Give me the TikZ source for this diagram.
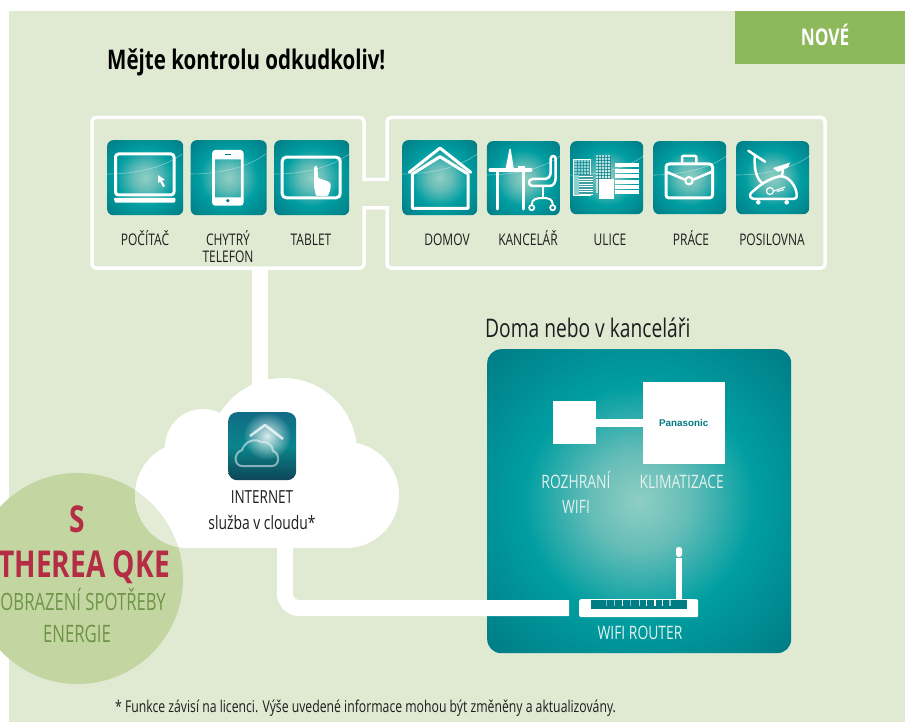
\documentclass[tikz,border=0pt]{standalone}
\usepackage{fontspec}
\setmainfont{Open Sans}
\newfontfamily\cond[FakeStretch=0.75]{Open Sans}
\newfontfamily\condn[FakeStretch=0.70]{Open Sans}
\newfontfamily\condb[FakeStretch=0.76]{Open Sans}
\newfontfamily\logofont{Liberation Sans}
\usetikzlibrary{calc,fadings}
\tikzfading[name=softglow,inner color=transparent!15,outer color=transparent!100]
\definecolor{bgc}{HTML}{E0E9D2}
\definecolor{newc}{HTML}{8DB85C}
\definecolor{badgec}{HTML}{C3D6A2}
\definecolor{overc}{HTML}{E4ECD8}
\definecolor{tealc}{HTML}{007C84}
\definecolor{redc}{HTML}{B52C45}
\definecolor{oliv}{HTML}{6E9447}
\definecolor{pale}{HTML}{E2F2EE}
\definecolor{ink}{HTML}{1E1E1E}
\definecolor{ta}{HTML}{8FCFC3}
\definecolor{tb}{HTML}{66BDB8}
\definecolor{tc}{HTML}{009EA1}
\definecolor{td}{HTML}{007A84}
\definecolor{ca}{HTML}{0D4556}
\definecolor{cb}{HTML}{0A858C}
\definecolor{cc}{HTML}{126B85}
\pgfdeclareradialshading{tealrad}{\pgfpoint{0bp}{0bp}}{
 color(0bp)=(ta);
 color(8bp)=(tb);
 color(19bp)=(tc);
 color(36bp)=(td);
 color(100bp)=(td)}
\pgfdeclareverticalshading{cloudgrad}{100bp}{
 color(0bp)=(ca);
 color(25bp)=(ca);
 color(50bp)=(cb);
 color(75bp)=(cc);
 color(100bp)=(cc)}
\tikzset{
 x=1pt,y=-1pt,
 lab/.style={font=\cond\fontsize{16}{18}\selectfont,text=ink,anchor=base,inner sep=0pt},
 wlab/.style={font=\cond\fontsize{18.5}{20}\selectfont,text=pale,anchor=base,inner sep=0pt},
 iconbox/.style={anchor=north west,inner sep=0pt,rounded corners=6pt,shade,shading=tealrad},
 frameline/.style={draw=white,line width=3.5pt},
 thick link/.style={draw=white,line width=16pt},
 whitebox/.style={fill=white,inner sep=0pt,anchor=north west},
 glyph/.style={draw=white,line width=3pt,line join=round,line cap=round,fill=none},
 thin glyph/.style={draw=white,line width=2pt,line join=round,line cap=round,fill=none},
 arcline/.style={draw=white,draw opacity=.4,line width=.6pt},
}
\newcommand{\iconarc}{\draw[arcline] (0,34) .. controls (30,34) and (58,27) .. (75,14);}
\newcommand{\cloudfill}[1]{%
 \fill[#1] (283,452) circle[radius=74];
 \fill[#1] (203,447) circle[radius=38];
 \fill[#1] (188,495) circle[radius=53];
 \fill[#1] (346,495) circle[radius=53];
 \fill[#1] (188,500) rectangle (346,548);}
\begin{document}
\begin{tikzpicture}
\useasboundingbox (0,0) rectangle (905,722);
\begin{scope}
\clip (0,0) rectangle (905,722);
\fill[white] (0,0) rectangle (905,722);
\fill[bgc] (9,11) rectangle (905,722);
\node[fill=newc,anchor=north west,minimum width=170pt,minimum height=53pt,inner sep=0pt] (newbox) at (735,11) {};
\node[anchor=base,inner sep=0pt,text=white,font=\cond\bfseries\fontsize{23}{25}\selectfont] (newtxt) at (825,46) {NOVÉ};
\node[anchor=base west,inner sep=0pt,text=black,font=\condb\bfseries\fontsize{27}{30}\selectfont] (title) at (107,70) {Mějte kontrolu odkudkoliv!};

% outline round both groups
\draw[frameline,rounded corners=4pt] (92,140) -- (92,117.5) -- (364,117.5) [sharp corners] -- (364,179.5) -- (387,179.5) [rounded corners=4pt] -- (387,117.5) -- (825,117.5) -- (825,268) -- (387,268) [sharp corners] -- (387,208) -- (364,208) [rounded corners=4pt] -- (364,268) -- (92,268) -- (92,140);

% icons
\node[iconbox,minimum width=76pt,minimum height=75pt] (pc) at (107,140) {};
\begin{scope}[shift={(107,140)}]
 \iconarc
 \draw[glyph,rounded corners=3pt] (8.5,14) rectangle (67,55);
 \fill[white,rounded corners=1pt] (6.7,58) -- (68.7,58) -- (68,62.7) -- (8,62.7) -- cycle;
 \fill[white] (51,35) -- (51,43) -- (53,41.5) -- (56,47) -- (58,46) -- (55,40.5) -- (58,40) -- cycle;
\end{scope}
\node[iconbox,minimum width=76pt,minimum height=75pt] (phone) at (190.5,140) {};
\begin{scope}[shift={(190.5,140)}]
 \iconarc
 \fill[white,even odd rule] [rounded corners=3pt] (21.7,10) rectangle (53,65.7) [sharp corners] (24.3,19.3) rectangle (50.3,57.3);
 \fill[tealc] (37.3,60.7) circle[radius=1.8];
 \draw[tealc,line width=1pt] (34.7,14.7) -- (40.7,14.7);
\end{scope}
\node[iconbox,minimum width=75pt,minimum height=75pt] (tablet) at (274,140) {};
\begin{scope}[shift={(274,140)}]
 \iconarc
 \draw[glyph,rounded corners=4pt] (8.2,17.2) rectangle (66.2,57.8);
 \fill[white,rounded corners=1pt] (40,27) -- (41.5,25.5) -- (43.5,27) -- (44,38) -- (47,39) -- (50,40) -- (53,41) -- (56.5,43) -- (56.5,49) -- (54,56) -- (42,56) -- (40,47) -- cycle;
\end{scope}
\node[iconbox,minimum width=75pt,minimum height=75pt] (domov) at (402,140) {};
\begin{scope}[shift={(402,140)}]
 \iconarc
 \draw[glyph] (7.3,32.3) -- (38,8) -- (68.7,32.3);
 \draw[glyph] (10.3,34) -- (38,16.7) -- (66,34) -- (66,68.3) -- (10.3,68.3) -- cycle;
\end{scope}
\node[iconbox,minimum width=73pt,minimum height=74pt] (office) at (486.7,141) {};
\begin{scope}[shift={(486.7,141)}]
 \iconarc
 \draw[white,line width=3.5pt,line cap=round] (3.5,29) -- (44,29);
 \draw[glyph] (11,29) -- (11,68);
 \draw[glyph] (36.3,29) -- (36.3,68);
 \fill[white] (22.7,8) -- (24,8) -- (27,27) -- (19,27) -- cycle;
 \fill[white] (31,25) rectangle (38,27);
 \draw[glyph,line width=2.5pt] (69,18) .. controls (69,14) and (64,14) .. (64,18) -- (64,31) .. controls (64,36) and (61,38) .. (57,38) -- (46,38) .. controls (41,38) and (41,45) .. (46,45) -- (63,45) .. controls (67,45) and (69,41) .. (69,36) -- cycle;
 \draw[thin glyph] (56,45) -- (56,57);
 \draw[thin glyph] (45,63.5) .. controls (45,58) and (50,57) .. (56,57) .. controls (62,57) and (66,58) .. (66,63.5);
 \draw[white,line width=1.7pt] (45,66.7) circle[radius=2.6];
 \draw[white,line width=1.7pt] (66,66.7) circle[radius=2.6];
\end{scope}
\node[iconbox,minimum width=73pt,minimum height=73pt] (street) at (570,141) {};
\begin{scope}[shift={(570,141)}]
 \iconarc
 \fill[white,opacity=.55] (3.3,18) rectangle (20.7,54);
 \draw[white,line width=.8pt] (3.7,18.4) rectangle (20.3,54);
 \foreach \v in {21,24,27,30,33} {\draw[tealc,line width=.5pt,opacity=.6] (4,\v) -- (20,\v);}
 \foreach \v in {7,10,13,16,19} {\draw[tealc,line width=.5pt,opacity=.6] (\v,19) -- (\v,34);}
 \fill[tealc!75] (9,34) rectangle (23,54);
 \foreach \v in {36,38.5,41,43.5,46,48.5,51,53.5} {\draw[white,line width=1pt] (9,\v) -- (22.7,\v);}
 \fill[white,opacity=.6] (25.7,14) rectangle (41,52);
 \foreach \v in {16,19,22,25,28,31,34,37} {\draw[tealc,line width=.7pt,opacity=.7] (25.7,\v) -- (41,\v);}
 \foreach \v in {28,31,34,37,40} {\draw[tealc,line width=.7pt,opacity=.7] (\v,14) -- (\v,52);}
 \foreach \v in {22,28,33.5,39,44,49.5} {\fill[white] (45,\v) rectangle (69.3,\v+4);}
 \fill[white] (29.3,38) rectangle (44,58.5);
\end{scope}
\node[iconbox,minimum width=73pt,minimum height=73pt] (work) at (653,141) {};
\begin{scope}[shift={(653,141)}]
 \iconarc
 \draw[glyph,rounded corners=3pt] (13,23) rectangle (59.5,57);
 \draw[glyph,line width=2.5pt,rounded corners=1pt] (29,21) -- (29,15) -- (43.3,15) -- (43.3,21);
 \draw[glyph,line width=2.5pt] (13,30.7) -- (31,38.3);
 \draw[glyph,line width=2.5pt] (59,30.7) -- (41,38.3);
 \draw[white,line width=2pt] (36,39.7) circle[radius=3.7];
\end{scope}
\node[iconbox,minimum width=73pt,minimum height=73pt] (gym) at (736,141) {};
\begin{scope}[shift={(736,141)}]
 \iconarc
 \draw[glyph,line width=2.5pt] (12.3,9.7) -- (29,20.7);
 \draw[glyph,line width=2.5pt] (19,14) .. controls (18,24) and (19,36) .. (26,42);
 \fill[white] (37,27) -- (54,21.5) -- (52,26.5) -- (42,31) -- cycle;
 \draw[glyph,line width=2.5pt] (47,29) -- (45.7,35.7);
 \draw[glyph,line width=2.5pt] (15,52) .. controls (22,46) and (30,38) .. (45,35) .. controls (54,36) and (60,46) .. (60.7,53) .. controls (61,57) and (60,58) .. (57,58) -- (19,58) .. controls (14,58) and (13,54) .. (15,52) -- cycle;
 \draw[white,line width=1.2pt] (34,50) circle[radius=3.5];
 \draw[white,line width=1.1pt] (38,50) -- (49,46);
 \draw[white,line width=1.1pt] (41,50.5) -- (48,48.5);
 \fill[white] (22.3,61.3) circle[radius=2.3];
 \fill[white] (50.7,61.3) circle[radius=2.3];
\end{scope}

% icon labels
\node[lab] (lpc) at (145,245) {POČÍTAČ};
\node[lab] (lphone) at (228,245) {CHYTRÝ};
\node[lab] (lphone2) at (228,262.5) {TELEFON};
\node[lab] (ltablet) at (311,245) {TABLET};
\node[lab] (ldomov) at (447,245) {DOMOV};
\node[lab] (loffice) at (528,245) {KANCELÁŘ};
\node[lab] (lstreet) at (610,245) {ULICE};
\node[lab] (lwork) at (691,245) {PRÁCE};
\node[lab] (lgym) at (772,245) {POSILOVNA};

% panel
\node[anchor=base west,inner sep=0pt,text=ink,font=\cond\fontsize{25.6}{28}\selectfont] (doma) at (485,337) {Doma nebo v kanceláři};
\node[iconbox,rounded corners=14pt,minimum width=304pt,minimum height=304pt] (panel) at (487,349) {};
\node[whitebox,minimum width=43pt,minimum height=43pt] (wifibox) at (553,401) {};
\node[whitebox,minimum width=82pt,minimum height=82pt] (acbox) at (643,382) {};
\draw[white,line width=8pt] (wifibox.east |- 0,423) -- (acbox.west |- 0,423);
\node[inner sep=0pt,text=tealc,font=\logofont\bfseries\fontsize{9.8}{11}\selectfont] (pana) at (683.7,422.7) {Panasonic};
\node[wlab] (lwifi) at (576,488) {ROZHRANÍ};
\node[wlab] (lwifi2) at (576,513) {WIFI};
\node[wlab] (lac) at (681.7,488) {KLIMATIZACE};
\node[wlab] (lrouter) at (640,639) {WIFI ROUTER};

% links and cloud
\coordinate (tap) at (260,268);
\coordinate (cloudtop) at (260,390);
\coordinate (cloudfoot) at (285,545);
\coordinate (linkend) at (569,608);
\draw[thick link] (tap) -- (cloudtop);
\draw[thick link,rounded corners=14pt] (cloudfoot) -- (cloudfoot |- linkend) -- (linkend);
\node[circle,fill=badgec,inner sep=0pt,minimum size=211pt] (badge) at (77.5,578.5) {};
\cloudfill{white}
\begin{scope}
 \clip (77.5,578.5) circle[radius=105.5];
 \cloudfill{overc}
\end{scope}

% cloud icon
\node[anchor=north west,inner sep=0pt,rounded corners=9pt,minimum width=68pt,minimum height=68pt,shade,shading=cloudgrad] (cloudicon) at (228,412) {};
\begin{scope}[shift={(228,412)}]
 \fill[white,path fading=softglow] (39,24) circle[radius=24];
 \draw[white,opacity=.5,line width=2pt,line join=round] (14,54) .. controls (6,54) and (5,41) .. (14,38) .. controls (17,29) and (27,26) .. (33,30) .. controls (40,29) and (45,34) .. (45,39) .. controls (52,41) and (52,54) .. (44,54) -- cycle;
 \draw[white,opacity=.75,line width=2.5pt,line join=round] (22,24) -- (37,13) -- (55,27);
\end{scope}
\node[lab,font=\cond\fontsize{18}{20}\selectfont] (linternet) at (262,503) {INTERNET};
\node[lab,font=\cond\fontsize{18.5}{20}\selectfont] (lcloud) at (262,529) {služba v cloudu*};

% router
\node[fill=white,inner sep=0pt,anchor=north west,rounded corners=2pt,minimum width=119pt,minimum height=18pt] (router) at (579,599) {};
\fill[tealc] (591,600) rectangle (687,609);
\foreach \v/\o in {606.7/.5,614.7/.6,622.7/1,630.7/.5,639.3/.7,646.7/1,655/1,662.7/1,670/.6} {\draw[white,opacity=\o,line width=1.5pt] (\v,600) -- (\v,606);}
\draw[white,line width=6pt] (679,558) -- (router.north -| 679,0);
\fill[white,rounded corners=2.5pt] (676,557) -- (676,547) -- (682,547) -- (682,557) -- cycle;

% badge text
\node[anchor=base,inner sep=0pt,text=redc,font=\condb\bfseries\fontsize{37}{40}\selectfont] (bs) at (77,532) {S};
\node[anchor=base east,inner sep=0pt,text=redc,font=\condb\bfseries\fontsize{37}{40}\selectfont] (bname) at (170,577) {THEREA QKE};
\node[anchor=base east,inner sep=0pt,text=oliv,font=\condn\fontsize{23.8}{27}\selectfont] (bsub) at (166,610) {OBRAZENÍ SPOTŘEBY};
\node[anchor=base,inner sep=0pt,text=oliv,font=\condn\fontsize{24}{27}\selectfont] (bsub2) at (77,642) {ENERGIE};

\node[anchor=base west,inner sep=0pt,text=ink,font=\cond\fontsize{16.3}{18}\selectfont] (foot) at (115,712) {* Funkce závisí na licenci. Výše uvedené informace mohou být změněny a aktualizovány.};
\end{scope}
\end{tikzpicture}
\end{document}
